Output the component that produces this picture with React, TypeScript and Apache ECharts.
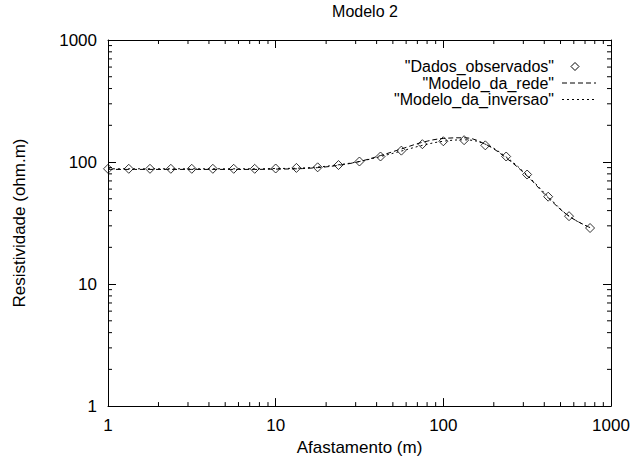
import React, { useEffect, useRef } from "react";
import * as echarts from "echarts";

const distances = [1, 1.33, 1.78, 2.37, 3.16, 4.22, 5.62, 7.5, 10, 13.3, 17.8, 23.7, 31.6, 42.2, 56.2, 75, 100, 133, 178, 237, 316, 422, 562, 750];
const observed = [88, 88, 88, 88, 88, 88, 88, 88, 88.5, 89.5, 90.5, 94.5, 101, 111, 124, 140, 148, 151, 137, 111, 79, 52, 36, 28.8];
const modeloRede = [87, 87, 87, 87, 87, 87, 87, 87, 87.5, 88, 90, 94, 101, 113, 128, 145, 156, 158, 140, 108, 77, 51, 36, 29];
const modeloInversao = [88, 88, 88, 88, 88, 88, 88, 88, 88.5, 89, 91, 95, 101, 111, 123, 137, 148, 152, 140, 110, 78, 52, 36, 29];
const xMinorTicks = [2, 3, 4, 5, 6, 7, 8, 9, 20, 30, 40, 50, 60, 70, 80, 90, 200, 300, 400, 500, 600, 700, 800, 900];
const yMinorTicks = [2, 3, 4, 5, 6, 7, 8, 9, 20, 30, 40, 50, 60, 70, 80, 90, 200, 300, 400, 500, 600, 700, 800, 900];
const legendNames = ['"Dados_observados"', '"Modelo_da_rede"', '"Modelo_da_inversao"'];

const FONT = "Liberation Sans, Arial, Helvetica, sans-serif";

export default function App() {
  const ref = useRef<HTMLDivElement>(null);
  useEffect(() => {
    if (!ref.current) return;
    const chart = echarts.init(ref.current, null, { renderer: "svg" });
    const black = "#000";
    const axisCommon = {
      type: "log" as const,
      logBase: 10,
      min: 1,
      max: 1000,
      splitLine: { show: false },
      axisLine: { show: true, lineStyle: { color: black, width: 1 } },
      axisTick: { show: true, inside: true, length: 8, lineStyle: { color: black, width: 1 } },
    };
    const fmt = (v: number) => String(Math.round(v));
    const legendY = [66.5, 83, 99.5];
    const graphics: any[] = [];
    legendNames.forEach((n, i) => {
      graphics.push({
        type: "text",
        x: 554,
        y: legendY[i],
        style: {
          text: n,
          fill: black,
          fontSize: 16,
          fontFamily: FONT,
          lineHeight: 16,
          align: "right",
          verticalAlign: "middle",
        },
      });
    });
    graphics.push({
      type: "polygon",
      shape: { points: [[575, legendY[0] - 4], [579, legendY[0]], [575, legendY[0] + 4], [571, legendY[0]]] },
      style: { fill: "none", stroke: black, lineWidth: 1 },
    });
    graphics.push({
      type: "line",
      shape: { x1: 562, y1: legendY[1], x2: 596, y2: legendY[1] },
      style: { stroke: black, lineWidth: 1, lineDash: [5, 3] },
    });
    graphics.push({
      type: "line",
      shape: { x1: 562, y1: legendY[2], x2: 596, y2: legendY[2] },
      style: { stroke: black, lineWidth: 1, lineDash: [2, 3] },
    });

    chart.setOption({
      animation: false,
      backgroundColor: "#fff",
      title: {
        text: "Modelo 2",
        left: 360,
        textAlign: "center",
        top: 0,
        padding: [3, 5],
        textStyle: { color: black, fontSize: 16, fontWeight: "normal", fontFamily: FONT },
      },
      grid: { left: 108, right: 23, top: 40, bottom: 44 },
      xAxis: [
        {
          ...axisCommon,
          position: "bottom",
          axisLabel: { color: black, fontSize: 17, fontFamily: FONT, margin: 11, formatter: fmt },
          name: "Afastamento (m)",
          nameLocation: "middle",
          nameGap: 28,
          nameTextStyle: { color: black, fontSize: 17, fontFamily: FONT },
        },
        {
          ...axisCommon,
          position: "top",
          axisLabel: { show: false },
        },
      ],
      yAxis: [
        {
          ...axisCommon,
          position: "left",
          axisLabel: { color: black, fontSize: 17, fontFamily: FONT, margin: 11, formatter: fmt },
          name: "Resistividade (ohm.m)",
          nameLocation: "middle",
          nameGap: 80,
          nameTextStyle: { color: black, fontSize: 17, fontFamily: FONT },
        },
        {
          ...axisCommon,
          position: "right",
          axisLabel: { show: false },
        },
      ],
      graphic: graphics,
      series: [
        {
          name: "Modelo_da_rede",
          type: "line",
          data: distances.map((x, i) => [x, modeloRede[i]]),
          smooth: 0.4,
          showSymbol: false,
          lineStyle: { color: black, width: 1, type: [5, 3] },
          z: 2,
        },
        {
          name: "Modelo_da_inversao",
          type: "line",
          data: distances.map((x, i) => [x, modeloInversao[i]]),
          smooth: 0.4,
          showSymbol: false,
          lineStyle: { color: black, width: 1, type: [2, 3] },
          z: 2,
        },
        {
          name: "Dados_observados",
          type: "scatter",
          data: distances.map((x, i) => [x, observed[i]]),
          symbol: "diamond",
          symbolSize: [9, 9],
          itemStyle: { color: "rgba(255,255,255,0)", borderColor: black, borderWidth: 1 },
          z: 3,
        },
        {
          type: "custom",
          silent: true,
          clip: false,
          data: xMinorTicks.map((v) => [v, 1]),
          renderItem: (_p: any, api: any) => {
            const v = api.value(0);
            const b = api.coord([v, 1]);
            const t = api.coord([v, 1000]);
            const st = { stroke: black, lineWidth: 1 };
            return {
              type: "group",
              children: [
                { type: "line", shape: { x1: b[0], y1: b[1], x2: b[0], y2: b[1] - 4 }, style: st },
                { type: "line", shape: { x1: t[0], y1: t[1], x2: t[0], y2: t[1] + 4 }, style: st },
              ],
            };
          },
        },
        {
          type: "custom",
          silent: true,
          clip: false,
          data: yMinorTicks.map((v) => [1, v]),
          renderItem: (_p: any, api: any) => {
            const v = api.value(1);
            const l = api.coord([1, v]);
            const r = api.coord([1000, v]);
            const st = { stroke: black, lineWidth: 1 };
            return {
              type: "group",
              children: [
                { type: "line", shape: { x1: l[0], y1: l[1], x2: l[0] + 4, y2: l[1] }, style: st },
                { type: "line", shape: { x1: r[0], y1: r[1], x2: r[0] - 4, y2: r[1] }, style: st },
              ],
            };
          },
        },
      ],
    });
    return () => chart.dispose();
  }, []);
  return <div ref={ref} style={{ width: 634, height: 461, position: "absolute", left: 0, top: 0 }} />;
}
